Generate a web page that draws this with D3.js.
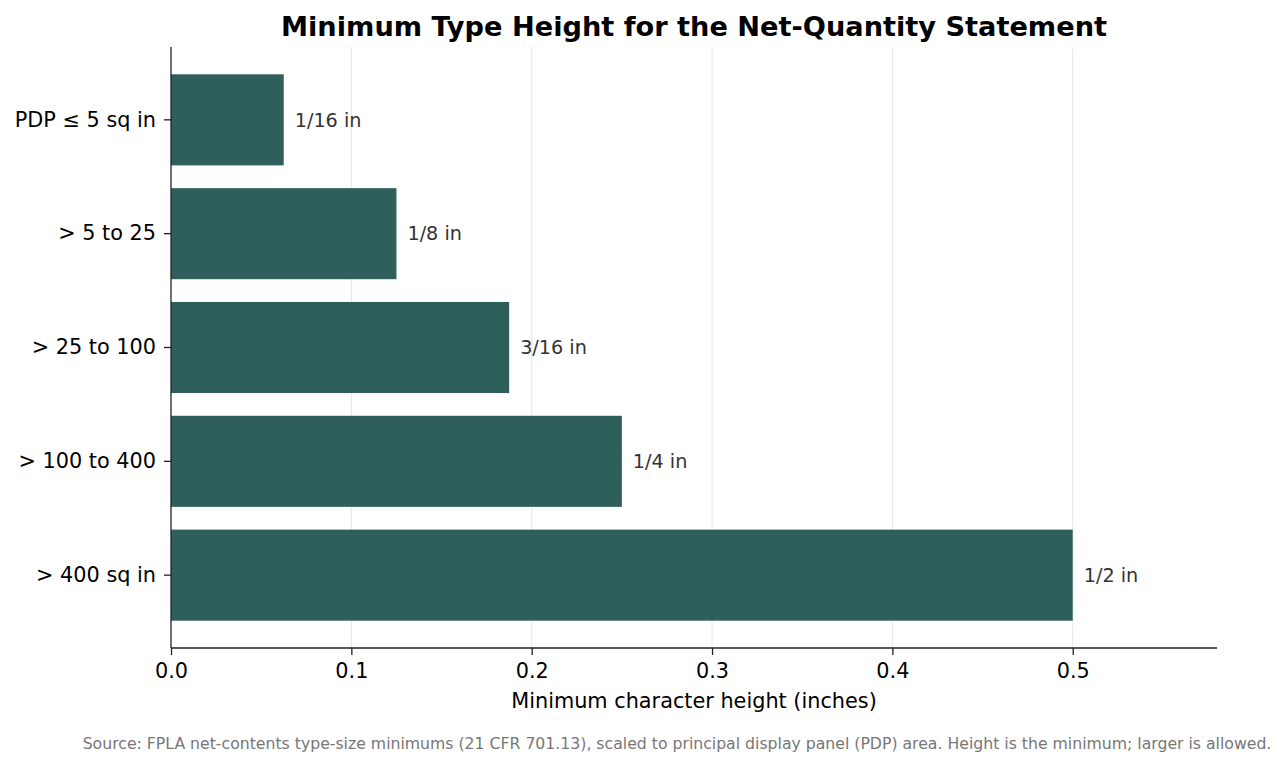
<!DOCTYPE html>
<html><head><meta charset="utf-8">
<script src="https://cdn.jsdelivr.net/npm/d3@7"></script>
<style>body{margin:0;background:#fff}svg{display:block}text{font-family:"DejaVu Sans",sans-serif}</style>
</head><body>
<script>
const categories = ["PDP ≤ 5 sq in", "> 5 to 25", "> 25 to 100", "> 100 to 400", "> 400 sq in"];
const values = [0.0625, 0.125, 0.1875, 0.25, 0.5];
const valueLabels = ["1/16 in", "1/8 in", "3/16 in", "1/4 in", "1/2 in"];
const xTicks = [0.0, 0.1, 0.2, 0.3, 0.4, 0.5];

const W = 1286, H = 767;
const m = {left:171, right:1217, top:47, bottom:648};
const svg = d3.select("body").append("svg").attr("width", W).attr("height", H);

const x = d3.scaleLinear().domain([0, 0.58]).range([m.left, m.right]);
const yIdx = d3.scaleLinear().domain([-0.64, 4.64]).range([m.top, m.bottom]);
const bandH = yIdx(0.4) - yIdx(-0.4);

// grid
svg.append("g").selectAll("line").data(xTicks.slice(1)).join("line")
  .attr("x1", d => x(d)).attr("x2", d => x(d))
  .attr("y1", m.top).attr("y2", m.bottom)
  .attr("stroke", "#e6e6e6").attr("stroke-width", 1);

// bars
svg.append("g").selectAll("rect").data(values).join("rect")
  .attr("x", x(0)).attr("y", (d,i) => yIdx(i - 0.4))
  .attr("width", d => x(d) - x(0)).attr("height", bandH)
  .attr("fill", "#2e5f5b");

// value labels
svg.append("g").selectAll("text").data(values).join("text")
  .attr("x", d => x(d) + 11).attr("y", (d,i) => yIdx(i))
  .attr("dy", "0.35em").attr("font-size", 19.2).attr("fill", "#333")
  .text((d,i) => valueLabels[i]);

// x axis
const xAxis = d3.axisBottom(x).tickValues(xTicks).tickFormat(d3.format(".1f")).tickSizeOuter(0).tickSize(7).tickPadding(8);
const gx = svg.append("g").attr("transform", `translate(0,${m.bottom})`).call(xAxis);
gx.select(".domain").attr("stroke", "#222").attr("stroke-width", 1.3).attr("d", `M${m.left},0H${m.right}`);
gx.selectAll(".tick line").attr("stroke", "#222").attr("stroke-width", 1.3);
gx.selectAll(".tick text").attr("font-size", 20.8).attr("fill", "#000").attr("font-family", "DejaVu Sans");

// y axis
const y = d3.scaleBand().domain(categories).range([yIdx(-0.5), yIdx(4.5)]);
const yAxis = d3.axisLeft(y).tickSize(7).tickPadding(8).tickSizeOuter(0);
const gy = svg.append("g").attr("transform", `translate(${m.left},0)`).call(yAxis);
gy.select(".domain").attr("stroke", "#222").attr("stroke-width", 1.3).attr("d", `M0,${m.top}V${m.bottom}`);
gy.selectAll(".tick line").attr("stroke", "#222").attr("stroke-width", 1.3);
gy.selectAll(".tick text").attr("font-size", 20.8).attr("fill", "#000").attr("font-family", "DejaVu Sans");

// title
svg.append("text").attr("x", (m.left + m.right)/2).attr("y", 36)
  .attr("text-anchor", "middle").attr("font-size", 27.2).attr("font-weight", "bold")
  .text("Minimum Type Height for the Net-Quantity Statement");

// x label
svg.append("text").attr("x", (m.left + m.right)/2).attr("y", 708)
  .attr("text-anchor", "middle").attr("font-size", 20.8)
  .text("Minimum character height (inches)");

// footnote
svg.append("text").attr("x", 677).attr("y", 749)
  .attr("text-anchor", "middle").attr("font-size", 15.7).attr("fill", "#777")
  .text("Source: FPLA net-contents type-size minimums (21 CFR 701.13), scaled to principal display panel (PDP) area. Height is the minimum; larger is allowed.");
</script>
</body></html>
